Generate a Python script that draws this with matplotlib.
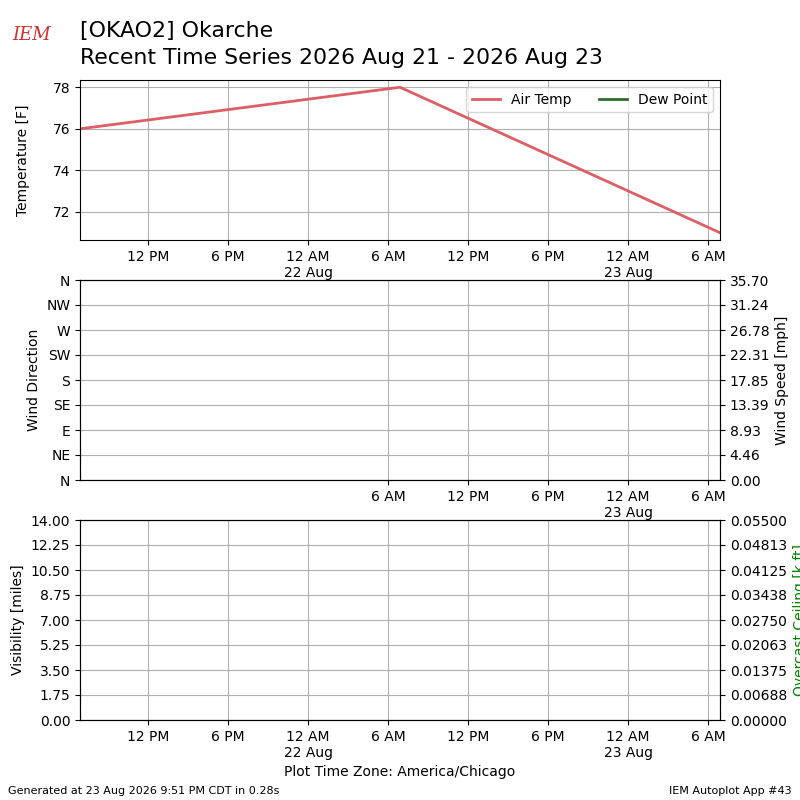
import numpy as np
import matplotlib
matplotlib.use("Agg")
import matplotlib.pyplot as plt
import matplotlib.dates as mdates
from matplotlib.ticker import FixedLocator, FuncFormatter
from datetime import datetime

# observations (local time, America/Chicago)
obs_times = [datetime(2026, 8, 21, 6, 54), datetime(2026, 8, 22, 6, 54), datetime(2026, 8, 23, 6, 54)]
air_temp = [76, 78, 71]
dew_point = []

wind_dir_labels = ["N", "NE", "E", "SE", "S", "SW", "W", "NW", "N"]
wind_speed_max = 35.70
vis_max = 14.0
ceiling_max = 0.055

title1 = "[OKAO2] Okarche"
title2 = "Recent Time Series 2026 Aug 21 - 2026 Aug 23"


def fmt_time(x, pos=None):
    dt = mdates.num2date(x)
    lbl = dt.strftime("%I %p").lstrip("0")
    if dt.hour == 0:
        lbl += "\n" + dt.strftime("%d %b")
    return lbl


fig = plt.figure(figsize=(8, 8), dpi=100)

ax1 = fig.add_axes([0.1, 0.7, 0.8, 0.2])
ax2 = fig.add_axes([0.1, 0.4, 0.8, 0.25])
ax3 = fig.add_axes([0.1, 0.1, 0.8, 0.25])

xmin, xmax = mdates.date2num(obs_times[0]), mdates.date2num(obs_times[-1])

# temperature panel
ax1.plot(obs_times, air_temp, color="#dd5f66", lw=2, label="Air Temp")
ax1.plot([], [], color="#2f6a2f", lw=2, label="Dew Point")
ax1.set_ylabel("Temperature [F]", labelpad=16)
ax1.legend(loc="upper right", ncol=2, fontsize=10)
ax1.grid(True)

# wind panel
ax2.set_ylim(0, 360)
ax2.set_yticks(np.arange(0, 361, 45))
ax2.set_yticklabels(wind_dir_labels)
ax2.set_ylabel("Wind Direction")
ax2.grid(True)
ax2b = ax2.twinx()
ax2b.set_ylim(0, wind_speed_max)
ax2b.set_yticks(np.linspace(0, wind_speed_max, 9))
ax2b.yaxis.set_major_formatter(FuncFormatter(lambda v, p: "%.2f" % v))
ax2b.set_ylabel("Wind Speed [mph]")

# visibility panel
ax3.set_ylim(0, vis_max)
ax3.set_yticks(np.linspace(0, vis_max, 9))
ax3.yaxis.set_major_formatter(FuncFormatter(lambda v, p: "%.2f" % v))
ax3.set_ylabel("Visibility [miles]")
ax3.grid(True)
ax3.set_xlabel("Plot Time Zone: America/Chicago")
ax3b = ax3.twinx()
ax3b.set_ylim(0, ceiling_max)
ax3b.set_yticks(np.linspace(0, ceiling_max, 9))
ax3b.yaxis.set_major_formatter(FuncFormatter(lambda v, p: "%.5f" % v))
ax3b.set_ylabel("Overcast Ceiling [k ft]", color="g")

for ax in (ax1, ax2, ax3, ax2b, ax3b):
    ax.set_xlim(xmin, xmax)

ticks = mdates.HourLocator(byhour=[0, 6, 12, 18]).tick_values(obs_times[0], obs_times[-1])
ticks = [t for t in ticks if xmin <= t <= xmax]
wind_ticks = [t for t in ticks if t >= mdates.date2num(obs_times[1]) - 1.0 / 24]
for ax, tk in ((ax1, ticks), (ax2, wind_ticks), (ax3, ticks)):
    ax.xaxis.set_major_locator(FixedLocator(tk))
    ax.xaxis.set_major_formatter(FuncFormatter(fmt_time))

fig.text(0.1, 0.954, title1, fontsize=15.8, va="baseline", ha="left")
fig.text(0.1, 0.92, title2, fontsize=15.8, va="baseline", ha="left")
fig.text(0.04, 0.945, "IEM", color="#d03030", fontsize=13, style="italic",
         family="serif", ha="center", va="bottom")
fig.text(0.01, 0.008, "Generated at 23 Aug 2026 9:51 PM CDT in 0.28s", fontsize=8)
fig.text(0.99, 0.008, "IEM Autoplot App #43", fontsize=8, ha="right")

fig.savefig("out.png")
